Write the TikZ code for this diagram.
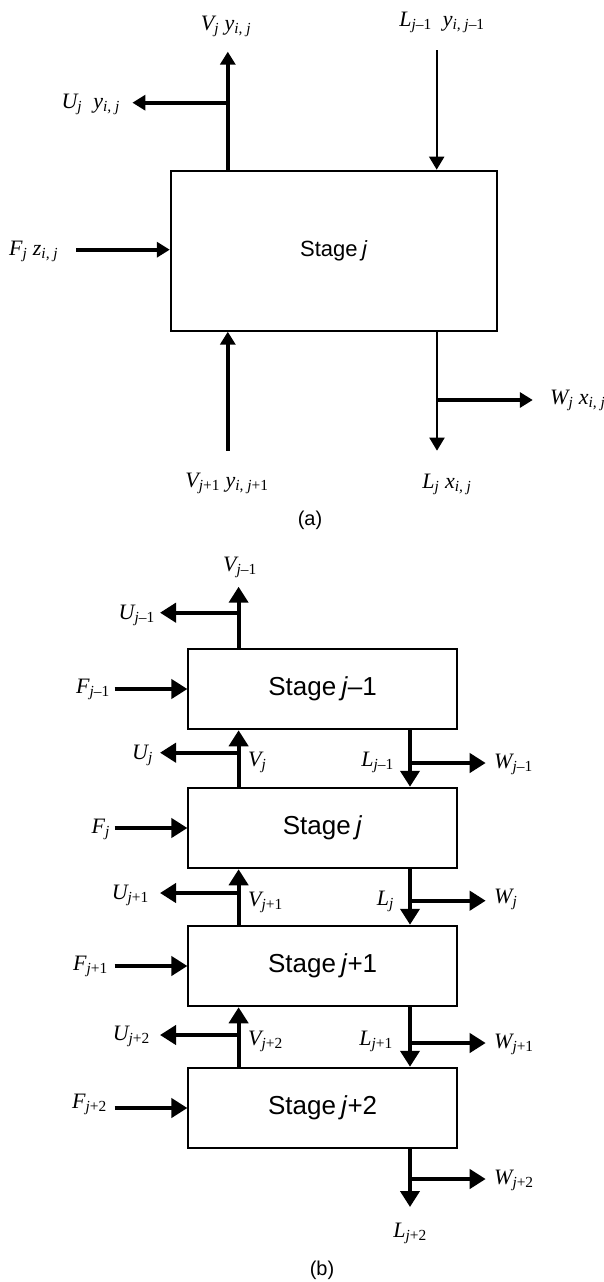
\documentclass[tikz,border=0pt]{standalone}
\usepackage{fontspec}
\setmainfont{Liberation Serif}
\setsansfont{Liberation Sans}
\usetikzlibrary{arrows.meta}
\newcommand\sbs[1]{\textsubscript{#1}}
\newcommand\up[1]{\textup{#1}}
\tikzset{
 lbl/.style={font=\fontsize{22}{25}\selectfont\itshape, inner sep=0pt},
 stga/.style={draw, line width=2pt, minimum width=326pt, minimum height=160pt, inner sep=0pt, font=\sffamily\fontsize{22}{26}\selectfont},
 stgb/.style={draw, line width=2pt, minimum width=268.4pt, minimum height=80.5pt, inner sep=0pt, font=\sffamily\fontsize{26}{30}\selectfont},
 fla/.style={line width=3.6pt, -{Triangle[length=13pt,width=15pt]}},
 thina/.style={line width=2pt, -{Triangle[length=13pt,width=15pt]}},
 flb/.style={line width=4pt, -{Triangle[length=16pt,width=19pt]}},
 capt/.style={font=\sffamily\fontsize{20}{24}\selectfont, inner sep=0pt}
}
\begin{document}
\begin{tikzpicture}[x=1pt,y=-1pt]
\fill[white] (0,0) rectangle (604,1282);
\useasboundingbox (0,0) rectangle (604,1282);
% ---------------- (a) ----------------
\node[stga] (A) at (333.8,250.7) {Stage\hspace{0.2em}\textit{j}};
\coordinate (aVtip) at (227.8,51.7);
\coordinate (aUtip) at (132.4,102.7);
\coordinate (aLtop) at (436.7,50);
\coordinate (aFst) at (76,249.7);
\coordinate (aVbot) at (227.8,450.7);
\coordinate (aLtip) at (437,450.7);
\coordinate (aWtip) at (532.8,400);
\draw[fla] (A.north -| aVtip) -- (aVtip);
\draw[fla] (aUtip -| aVtip) -- (aUtip);
\draw[thina] (aLtop) -- (A.north -| aLtop);
\draw[fla] (aFst) -- (A.west |- aFst);
\draw[fla] (aVbot) -- (A.south -| aVbot);
\draw[thina] (A.south -| aLtip) -- (aLtip);
\draw[fla] (aWtip -| aLtip) -- (aWtip);
\node[lbl] (laV) at (226,26) {V\sbs{j} y\sbs{i, j}};
\node[lbl] (laL) at (442,22) {L\sbs{j\up{–1}}\ \ y\sbs{i, j\up{–1}}};
\node[lbl,anchor=east] (laU) at (120,104) {U\sbs{j}\ \ y\sbs{i, j}};
\node[lbl,anchor=west] (laF) at (9,251) {F\sbs{j} z\sbs{i, j}};
\node[lbl] (laV1) at (227,483) {V\sbs{j\up{+1}} y\sbs{i, j\up{+1}}};
\node[lbl] (laLx) at (447,484) {L\sbs{j} x\sbs{i, j}};
\node[lbl,anchor=west] (laW) at (550,400) {W\sbs{j} x\sbs{i, j}};
\node[capt] (capa) at (310,520) {(a)};
% ---------------- (b) ----------------
\node[stgb] (B1) at (322.6,689) {Stage\hspace{0.2em}\textit{j}\up{–1}};
\node[stgb] (B2) at (322.6,828) {Stage\hspace{0.2em}\textit{j}};
\node[stgb] (B3) at (322.6,966) {Stage\hspace{0.2em}\textit{j}\up{+1}};
\node[stgb] (B4) at (322.6,1108) {Stage\hspace{0.2em}\textit{j}\up{+2}};
\coordinate (vx) at (238.6,0);
\coordinate (lx) at (410,0);
\coordinate (fx) at (114.7,0);
% top
\coordinate (bV0) at (238.6,586.7);
\draw[flb] (B1.north -| vx) -- (bV0);
\coordinate (bU0) at (160,612.7);
\draw[flb] (bU0 -| vx) -- (bU0);
% between boxes: vapour up, liquid down
\draw[flb] (B2.north -| vx) -- (B1.south -| vx);
\draw[flb] (B3.north -| vx) -- (B2.south -| vx);
\draw[flb] (B4.north -| vx) -- (B3.south -| vx);
\draw[flb] (B1.south -| lx) -- (B2.north -| lx);
\draw[flb] (B2.south -| lx) -- (B3.north -| lx);
\draw[flb] (B3.south -| lx) -- (B4.north -| lx);
\coordinate (bU1) at (160,752.7);
\coordinate (bU2) at (160,893);
\coordinate (bU3) at (160,1035);
\draw[flb] (bU1 -| vx) -- (bU1);
\draw[flb] (bU2 -| vx) -- (bU2);
\draw[flb] (bU3 -| vx) -- (bU3);
\coordinate (bW1) at (485.7,763);
\coordinate (bW2) at (485.7,900.7);
\coordinate (bW3) at (485.7,1043);
\coordinate (bW4) at (485.7,1179);
\draw[flb] (bW1 -| lx) -- (bW1);
\draw[flb] (bW2 -| lx) -- (bW2);
\draw[flb] (bW3 -| lx) -- (bW3);
% bottom
\coordinate (bL4) at (410,1207);
\draw[flb] (B4.south -| lx) -- (bL4);
\draw[flb] (bW4 -| lx) -- (bW4);
% feeds
\draw[flb] (B1.west -| fx) -- (B1.west);
\draw[flb] (B2.west -| fx) -- (B2.west);
\draw[flb] (B3.west -| fx) -- (B3.west);
\draw[flb] (B4.west -| fx) -- (B4.west);
% labels
\node[lbl] (lV0) at (240,567) {V\sbs{j\up{–1}}};
\node[lbl,anchor=east] (lU0) at (155,615) {U\sbs{j\up{–1}}};
\node[lbl,anchor=east] (lF1) at (110,689) {F\sbs{j\up{–1}}};
\node[lbl,anchor=east] (lU1) at (153,755) {U\sbs{j}};
\node[lbl,anchor=west] (lV1) at (248,762) {V\sbs{j}};
\node[lbl,anchor=east] (lL1) at (394,762) {L\sbs{j\up{–1}}};
\node[lbl,anchor=west] (lW1) at (494,764) {W\sbs{j\up{–1}}};
\node[lbl,anchor=east] (lF2) at (110,829) {F\sbs{j}};
\node[lbl,anchor=east] (lU2) at (149,895) {U\sbs{j\up{+1}}};
\node[lbl,anchor=west] (lV2) at (248,902) {V\sbs{j\up{+1}}};
\node[lbl,anchor=east] (lL2) at (394,901) {L\sbs{j}};
\node[lbl,anchor=west] (lW2) at (494,899) {W\sbs{j}};
\node[lbl,anchor=east] (lF3) at (108,966) {F\sbs{j\up{+1}}};
\node[lbl,anchor=east] (lU3) at (150,1036) {U\sbs{j\up{+2}}};
\node[lbl,anchor=west] (lV3) at (248,1041) {V\sbs{j\up{+2}}};
\node[lbl,anchor=east] (lL3) at (393,1041) {L\sbs{j\up{+1}}};
\node[lbl,anchor=west] (lW3) at (494,1044) {W\sbs{j\up{+1}}};
\node[lbl,anchor=east] (lF4) at (107,1104) {F\sbs{j\up{+2}}};
\node[lbl,anchor=west] (lW4) at (494,1180) {W\sbs{j\up{+2}}};
\node[lbl] (lL4) at (410,1233) {L\sbs{j\up{+2}}};
\node[capt] (capb) at (322,1270) {(b)};
\end{tikzpicture}
\end{document}
